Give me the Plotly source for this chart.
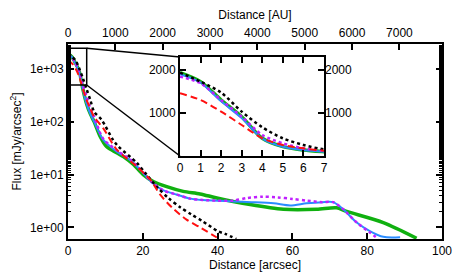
import numpy as np
import plotly.graph_objects as go

# ---- data ----
green_x = [0, 1, 2, 3, 4, 5, 6, 7, 8.6, 10.3, 13, 14.8, 17.5, 20.1, 22.8, 26.4, 30.8, 35.3, 39.8, 48.7, 57.6, 66.5, 71.8, 74.5, 84.3, 93.2]
green_y = [1937, 1728, 1302, 914, 411, 217, 140, 100, 53, 34, 26, 22, 15.5, 10, 7.4, 5.9, 4.8, 4.3, 3.6, 2.7, 2.2, 2.2, 2.35, 2.0, 1.23, 0.62]

blue_x = [0, 1, 2, 3, 4, 5, 6, 7, 9.4, 13, 16.6, 20.1, 22.5, 25.5, 29, 32.6, 36, 40, 44, 49, 55, 59.4, 63.8, 68, 70.9, 73.6, 77.2, 80.7, 84.3, 88.8]
blue_y = [1900, 1705, 1271, 880, 403, 217, 140, 100, 46, 27.5, 19, 10.8, 7.0, 5.0, 4.2, 3.5, 3.3, 3.2, 3.1, 3.0, 2.85, 2.6, 2.85, 3.0, 3.0, 2.2, 1.23, 0.85, 0.66, 0.65]

magenta_x = [0, 1, 2, 3, 4, 5, 6, 7, 9.4, 13, 16.6, 20.1, 22.5, 25.5, 29, 32.6, 36, 40, 44, 48, 52, 56, 60, 64, 68, 70.9, 73.6, 77.2, 80.7, 83]
magenta_y = [1845, 1690, 1300, 914, 488, 295, 178, 124, 48, 29, 19.5, 11, 7.1, 5.0, 4.2, 3.5, 3.3, 3.2, 3.2, 3.6, 3.8, 3.7, 3.45, 3.2, 3.0, 3.0, 2.2, 1.23, 0.8, 0.6]

black_x = [0, 1, 2, 3, 4, 5, 6, 7, 9, 12, 13.5, 18.4, 21, 24, 26.8, 30, 33, 36, 40, 42, 45]
black_y = [1937, 1728, 1473, 1031, 667, 411, 256, 155, 109, 46, 34, 16.7, 10, 5.6, 3.6, 2.4, 1.75, 1.3, 0.85, 0.75, 0.6]

red_x = [0, 1, 2, 3, 4, 5, 6, 7, 9.4, 13, 18, 22, 24.6, 28, 31.7, 35.3, 39.8]
red_y = [1457, 1302, 1031, 721, 411, 256, 178, 124, 76, 30, 15, 8.0, 4.2, 2.3, 1.4, 1.0, 0.64]

x_ticks = [0, 20, 40, 60, 80, 100]
au_ticks = [0, 1000, 2000, 3000, 4000, 5000, 6000, 7000]
y_ticks = [1, 10, 100, 1000]
y_ticktext = ["1e+00", "1e+01", "1e+02", "1e+03"]
inset_y_ticks = [1000, 2000]
AU_PER_ARCSEC = 79.0

# ---- figure ----
W, H = 463, 278
ML, MR, MT, MB = 68, 21, 44, 39
FONT = dict(family="Liberation Sans, Arial, sans-serif", size=12, color="black")

ymin, ymax = np.log10(0.6), np.log10(3000)
inset_xd = [0.2995, 0.6845]
inset_yd = [0.4256, 0.9333]

series = [
    (green_x, green_y, dict(color="#10b010", width=3.5)),
    (blue_x, blue_y, dict(color="#2a8cff", width=2)),
    (magenta_x, magenta_y, dict(color="#c020ff", width=2.5, dash="dot")),
    (black_x, black_y, dict(color="black", width=2.5, dash="3px,3px")),
    (red_x, red_y, dict(color="#ff1010", width=2, dash="7px,4px")),
]

fig = go.Figure()
for xs, ys, ln in series:
    fig.add_trace(go.Scatter(x=xs, y=ys, mode="lines", line=dict(shape="spline", smoothing=0.8, **ln),
                             xaxis="x", yaxis="y", showlegend=False, hoverinfo="skip"))
for xs, ys, ln in series:
    fig.add_trace(go.Scatter(x=xs, y=ys, mode="lines", line=dict(shape="spline", smoothing=0.8, **ln),
                             xaxis="x3", yaxis="y3", showlegend=False, hoverinfo="skip"))
# carrier traces for the secondary axes (invisible)
fig.add_trace(go.Scatter(x=[au_ticks[0]], y=[y_ticks[0]], mode="markers", marker=dict(opacity=0),
                         xaxis="x2", yaxis="y", showlegend=False, hoverinfo="skip"))
fig.add_trace(go.Scatter(x=[0], y=[inset_y_ticks[0]], mode="markers", marker=dict(opacity=0),
                         xaxis="x3", yaxis="y4", showlegend=False, hoverinfo="skip"))

axcommon = dict(showgrid=False, zeroline=False, showline=True, linecolor="black", linewidth=2,
                ticks="inside", tickcolor="black", tickwidth=1.5, tickfont=FONT, automargin=False)

fig.update_layout(
    width=W, height=H, margin=dict(l=ML, r=MR, t=MT, b=MB, autoexpand=False),
    paper_bgcolor="white", plot_bgcolor="white", font=FONT, showlegend=False,
    xaxis=dict(domain=[0, 1], range=[0, 100], tickvals=x_ticks, ticklen=6, anchor="y",
               title=dict(text="Distance [arcsec]", font=FONT, standoff=2), **axcommon),
    xaxis2=dict(overlaying="x", side="top", anchor="y", range=[0, 100 * AU_PER_ARCSEC],
                tickvals=au_ticks, ticklen=6,
                title=dict(text="Distance [AU]", font=FONT, standoff=4), **axcommon),
    yaxis=dict(domain=[0, 1], type="log", range=[ymin, ymax], tickvals=y_ticks, ticktext=y_ticktext,
               ticklen=6, mirror="ticks", anchor="x",
               minor=dict(ticks="inside", ticklen=3, tickcolor="black", tickwidth=1, showgrid=False),
               title=dict(text="Flux [mJy/arcsec<sup>2</sup>]", font=FONT, standoff=6), **axcommon),
    xaxis3=dict(domain=inset_xd, range=[0, 7], dtick=1, ticklen=6, mirror="ticks", anchor="y3",
                **axcommon),
    yaxis3=dict(domain=inset_yd, range=[0, 2300], tickvals=inset_y_ticks, ticklen=6, mirror="ticks",
                anchor="x3", **axcommon),
    yaxis4=dict(domain=inset_yd, overlaying="y3", side="right", anchor="x3", range=[0, 2300],
                tickvals=inset_y_ticks, showgrid=False, zeroline=False, showline=False, ticks="",
                tickfont=FONT, automargin=False),
)

# zoom rectangle and connector lines
zx1, zy0, zy1 = 5, 500, 2500
fig.add_shape(type="rect", xref="x", yref="y", x0=0, x1=zx1, y0=zy0, y1=zy1,
              line=dict(color="black", width=1.5), layer="above")
ix = inset_xd[0] * 100
iy_top = 10 ** (ymin + inset_yd[1] * (ymax - ymin))
iy_bot = 10 ** (ymin + inset_yd[0] * (ymax - ymin))
fig.add_shape(type="line", xref="x", yref="y", x0=zx1, y0=zy1, x1=ix, y1=iy_top,
              line=dict(color="black", width=1.5), layer="above")
fig.add_shape(type="line", xref="x", yref="y", x0=zx1, y0=zy0, x1=ix, y1=iy_bot,
              line=dict(color="black", width=1.5), layer="above")

fig.write_html("out.html", config={"displayModeBar": False},
               post_script="document.body.style.margin='0';document.body.style.padding='0';")
